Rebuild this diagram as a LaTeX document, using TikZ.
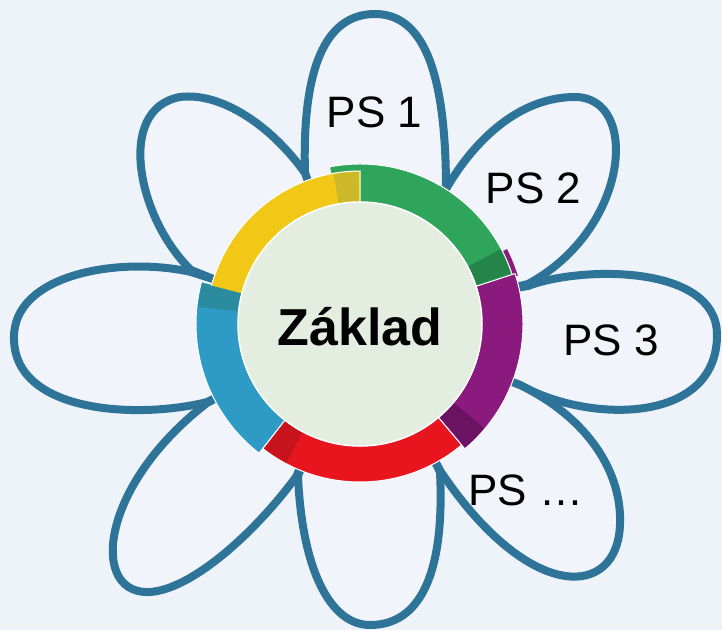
\documentclass[tikz,border=0pt]{standalone}
\usepackage{fontspec}
\setmainfont{Liberation Sans}

\definecolor{bgblue}{HTML}{EEF2F9}
\definecolor{petalline}{HTML}{2E7398}
\definecolor{petalfill}{HTML}{F1F4FA}
\definecolor{corefill}{HTML}{E3EEE1}
\definecolor{ringyellow}{HTML}{F2C816}
\definecolor{ringgreen}{HTML}{2FA55C}
\definecolor{ringpurple}{HTML}{8A1A7E}
\definecolor{ringred}{HTML}{E8141E}
\definecolor{ringblue}{HTML}{2D9BC6}
\definecolor{darkyellow}{HTML}{CDB82A}
\definecolor{darkgreen}{HTML}{23854A}
\definecolor{darkpurple}{HTML}{6C1262}
\definecolor{darkred}{HTML}{C7141C}
\definecolor{darkblue}{HTML}{2A8C9E}

\tikzset{
  petal/.style={draw=petalline,fill=petalfill,line width=8pt,line join=round},
  ringpart/.style={draw=white,line width=1pt},
  pslabel/.style={font=\fontsize{44}{48}\selectfont,anchor=base,inner sep=0pt},
}

% #1 style, #2 start angle, #3 end angle, #4 inner radius, #5 outer radius
\newcommand{\ringseg}[5]{%
  \path[#1] (#2:#4) -- (#2:#5) arc[start angle=#2,end angle=#3,radius=#5]
    -- (#3:#4) arc[start angle=#3,end angle=#2,radius=#4] -- cycle;}

\begin{document}
\begin{tikzpicture}[x=1pt,y=1pt,thick]
\useasboundingbox (-360,-306) rectangle (362,324);
\fill[bgblue] (-360,-306) rectangle (362,324);

\draw[petal] (-47,128) -- (-55,151) .. controls (-58,255) and (-35,310) .. (15,310) .. controls (60,310) and (86,260) .. (86,135) -- (73,115);
\draw[petal] (73,115) -- (86,135) .. controls (115,185) and (160,227) .. (215,227) .. controls (280,227) and (270,95) .. (168,40) -- (143,34);
\draw[petal] (143,34) -- (168,38) .. controls (220,58) and (356,60) .. (357,-10) .. controls (358,-100) and (230,-100) .. (160,-61) -- (136,-52);
\draw[petal] (136,-52) -- (160,-61) .. controls (230,-95) and (262,-150) .. (260,-200) .. controls (258,-275) and (170,-280) .. (81,-148) -- (69,-126);
\draw[petal] (69,-126) -- (80,-148) .. controls (85,-250) and (60,-301) .. (10,-301) .. controls (-30,-301) and (-58,-245) .. (-62,-152) -- (-53,-129);
\draw[petal] (-53,-129) -- (-64,-153) .. controls (-110,-215) and (-175,-270) .. (-215,-268) .. controls (-270,-265) and (-258,-160) .. (-153,-79) -- (-130,-67);
\draw[petal] (-130,-67) -- (-153,-78) .. controls (-220,-95) and (-345,-90) .. (-346,-15) .. controls (-348,50) and (-240,68) .. (-169,52) -- (-144,44);
\draw[petal] (-144,44) -- (-169,54) .. controls (-222,105) and (-245,215) .. (-180,227) .. controls (-140,232) and (-90,200) .. (-55,151) -- (-47,128);

\ringseg{fill=ringpurple}{17}{27}{150}{165}
\ringseg{ringpart,fill=ringgreen}{16}{101}{118}{160}
\ringseg{ringpart,fill=ringpurple}{-50}{18}{118}{163}
\ringseg{ringpart,fill=ringred}{-128}{-50}{118}{158}
\ringseg{ringpart,fill=ringblue}{165}{232}{118}{164}
\path[ringpart,fill=ringyellow] (90:118) -- (90:153) arc[start angle=90,end angle=150,radius=153]
  arc[start angle=150,end angle=171,radius=169] -- (168:150) -- (167:118)
  arc[start angle=167,end angle=90,radius=118] -- cycle;

\ringseg{fill=darkyellow}{90.5}{100}{121}{152}
\ringseg{fill=darkgreen}{18.5}{28}{121}{159}
\ringseg{fill=darkpurple}{-49.5}{-40}{121}{162}
\ringseg{fill=darkred}{-127.5}{-118}{121}{157}
\ringseg{fill=darkblue}{165.5}{174}{121}{163}

\filldraw[fill=corefill,draw=white,line width=1.5pt] (0,0) circle[radius=122];

\node[font=\bfseries\fontsize{52}{56}\selectfont,anchor=base,inner sep=0pt] (zaklad) at (0,-21) {Základ};
\node[pslabel] (ps1) at (14.5,197) {PS 1};
\node[pslabel] (ps2) at (173.5,121) {PS 2};
\node[pslabel] (ps3) at (251,-31) {PS 3};
\node[pslabel] (psn) at (166,-181) {PS …};
\end{tikzpicture}
\end{document}
